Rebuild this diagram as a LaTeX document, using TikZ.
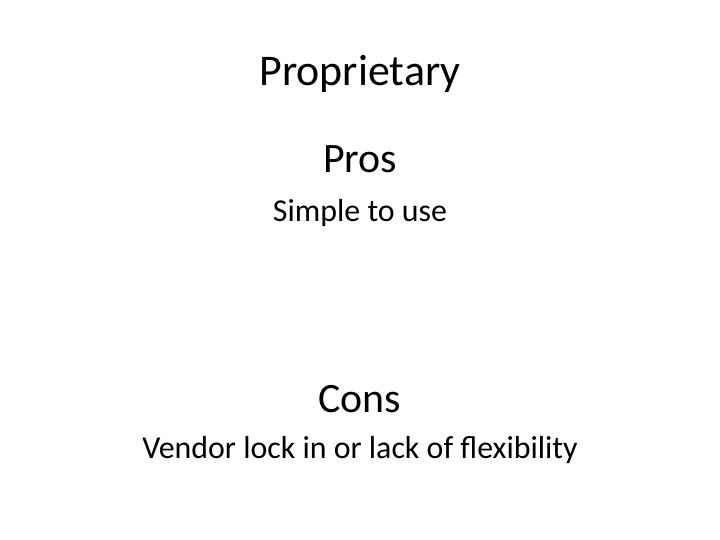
\documentclass[tikz,border=0pt]{standalone}
\usepackage{fontspec}
\setmainfont{Carlito}
\usepackage{tikz}
\usetikzlibrary{positioning}

\begin{document}
\begin{tikzpicture}[x=1bp,y=-1bp,
    txt/.style={anchor=base,inner sep=0pt,text=black},
    head/.style={txt,font=\fontsize{44}{48}\selectfont},
    sub/.style={txt,font=\fontsize{42}{46}\selectfont},
    item/.style={txt,font=\fontsize{32}{36}\selectfont}]
                  \useasboundingbox (0,0) rectangle (720,540);
                  \node[head] (title) at (360,86) {Proprietary};

                  \node[sub] (pros) at (360,173) {Pros};
                  \node[item] (prositem) at (360,222) {Simple to use};

                  \node[sub] (cons) at (360,412) {Cons};
                  \node[item] (consitem) at (360,458) {Vendor lock in or lack of flexibility};
              \end{tikzpicture}
\end{document}
